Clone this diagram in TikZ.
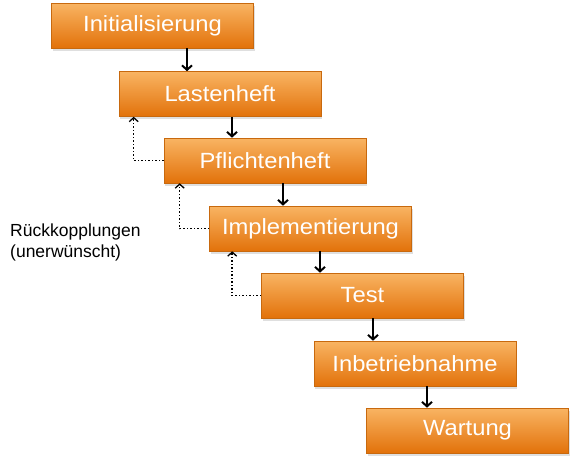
\documentclass[tikz,border=0pt]{standalone}
\usepackage{fontspec}
\setmainfont{Liberation Sans}
\newfontfamily\boxfont[FakeStretch=1.08]{Liberation Sans}
\usetikzlibrary{arrows.meta,shadows}
\definecolor{otop}{HTML}{F9B463}
\definecolor{obot}{HTML}{E2720A}
\definecolor{oedge}{HTML}{C8690E}
\tikzset{
  phase/.style={rectangle, minimum width=202pt, minimum height=45pt,
    top color=otop, bottom color=obot, draw=oedge, line width=0.6pt,
    text=white, inner sep=0pt,
    font=\boxfont\fontsize{22}{24}\selectfont,
    drop shadow={opacity=0.25, shadow xshift=1pt, shadow yshift=-2.5pt}},
  flow/.style={line width=2pt, -{Straight Barb[length=4.5pt,width=10pt,line width=2pt]}},
  fb/.style={line width=1.5pt, dotted, -{Straight Barb[length=4pt,width=9pt,line width=1.3pt]}},
}
\begin{document}
\begin{tikzpicture}[x=1pt,y=-1pt]
\useasboundingbox (0,0) rectangle (574,461);
\node[phase] (init) at (152.5,25.5) {Initialisierung};
\node[phase] (last) at (220,94) {Lastenheft};
\node[phase] (pfl)  at (265,160.5) {Pflichtenheft};
\node[phase] (impl) at (310.5,228.5) {Implementierung};
\node[phase] (test) at (362.5,295.5) {Test};
\node[phase] (inb)  at (415,363.5) {Inbetriebnahme};
\node[phase] (wart) at (467.5,430.5) {Wartung};

\draw[flow] ([xshift=34.5pt]init.south) -- ([xshift=-33pt]last.north);
\draw[flow] ([xshift=12pt]last.south) -- ([xshift=-33pt]pfl.north);
\draw[flow] ([xshift=18pt]pfl.south) -- ([xshift=-27.5pt]impl.north);
\draw[flow] ([xshift=9.5pt]impl.south) -- ([xshift=-42.5pt]test.north);
\draw[flow] ([xshift=10.5pt]test.south) -- ([xshift=-42pt]inb.north);
\draw[flow] ([xshift=12pt]inb.south) -- ([xshift=-40.5pt]wart.north);

\draw[fb] (pfl.west) -| ([xshift=15pt]last.south west);
\draw[fb] (impl.west) -| ([xshift=16pt]pfl.south west);
\draw[fb] (test.west) -| ([xshift=23pt]impl.south west);

\node[anchor=base west, align=left, inner sep=0pt,
  font=\fontsize{17.5}{21}\selectfont] (lbl) at (10,257)
  {Rückkopplungen\\(unerwünscht)};
\end{tikzpicture}
\end{document}
